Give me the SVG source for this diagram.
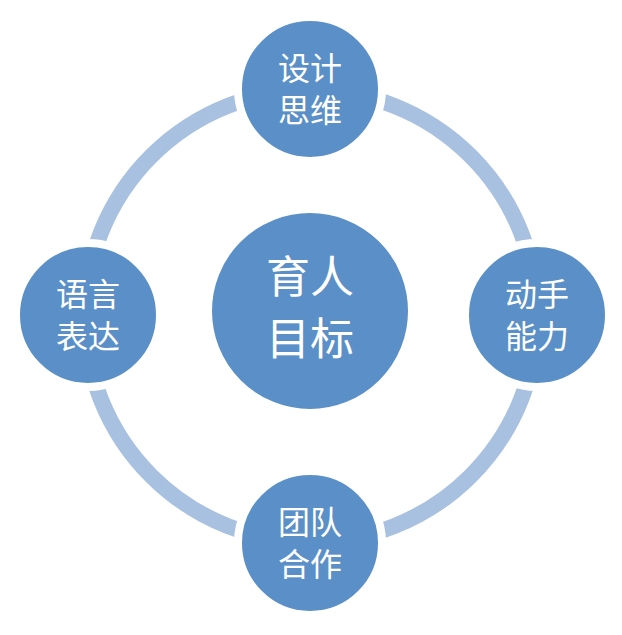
<svg xmlns="http://www.w3.org/2000/svg" width="622" height="635" viewBox="0 0 622 635">
<style>
.n{fill:#5a8fc8;stroke:#fff;stroke-width:8}
.t{fill:#fff;font-family:"Noto Sans CJK SC",sans-serif;text-anchor:middle}
</style>
<rect width="622" height="635" fill="#fff"/>
<g id="connectors"><circle cx="311" cy="316" r="226" fill="none" stroke="#a8c1e0" stroke-width="16"/></g>
<g id="center"><circle class="n" cx="310" cy="311" r="102"/><text class="t" font-size="44" x="310" y="293">育人</text><text class="t" font-size="44" x="310" y="355">目标</text></g>
<g id="top"><circle class="n" cx="310" cy="89" r="72"/><text class="t" font-size="32" x="310" y="80">设计</text><text class="t" font-size="32" x="310" y="122">思维</text></g>
<g id="left"><circle class="n" cx="88" cy="315" r="72"/><text class="t" font-size="32" x="88" y="306">语言</text><text class="t" font-size="32" x="88" y="348">表达</text></g>
<g id="right"><circle class="n" cx="537" cy="315" r="72"/><text class="t" font-size="32" x="537" y="306">动手</text><text class="t" font-size="32" x="537" y="348">能力</text></g>
<g id="bottom"><circle class="n" cx="310" cy="543" r="72"/><text class="t" font-size="32" x="310" y="534">团队</text><text class="t" font-size="32" x="310" y="576">合作</text></g>
</svg>
